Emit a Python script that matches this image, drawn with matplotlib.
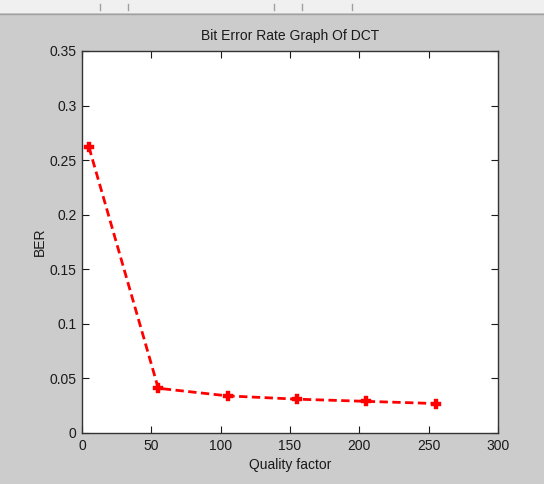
import matplotlib
matplotlib.use("Agg")
import matplotlib.pyplot as plt
from matplotlib.patches import Rectangle
from matplotlib.lines import Line2D

quality = [5, 55, 105, 155, 205, 255]
ber = [0.262, 0.041, 0.034, 0.031, 0.029, 0.027]
xticks = [0, 50, 100, 150, 200, 250, 300]
yticks = [0, 0.05, 0.1, 0.15, 0.2, 0.25, 0.3, 0.35]
ytick_labels = ["0", "0.05", "0.1", "0.15", "0.2", "0.25", "0.3", "0.35"]

plt.rcParams['font.family'] = ['Liberation Sans', 'DejaVu Sans']
fs = 10

W, H = 544, 484
fig = plt.figure(figsize=(W/100, H/100), dpi=100)
fig.patch.set_facecolor('#cccccc')

# toolbar strip at top
fig.patches.append(Rectangle((0, 1 - 13/H), 1, 13/H, transform=fig.transFigure,
                             facecolor='#f0f0f0', edgecolor='none'))
fig.lines.append(Line2D([0, 1], [1 - 14/H, 1 - 14/H], transform=fig.transFigure,
                        color='#a0a0a0', lw=1))
for xp in [100, 128, 274, 302, 352]:
    fig.lines.append(Line2D([xp/W, xp/W], [1 - 4/H, 1 - 10/H], transform=fig.transFigure,
                            color='#a0a0a0', lw=1))

left, right, top, bottom = 82, 498, 51, 433
ax = fig.add_axes([left/W, 1 - bottom/H, (right-left)/W, (bottom-top)/H])
ax.set_facecolor('white')
ax.plot(quality, ber, color='red', linestyle='--', linewidth=2, dashes=(3, 1.6),
        marker='P', markersize=7, markeredgewidth=0.3)
ax.set_xlim(0, 300)
ax.set_ylim(0, 0.35)
ax.set_xticks(xticks)
ax.set_yticks(yticks)
ax.set_yticklabels(ytick_labels)
ax.tick_params(direction='in', top=True, right=True, length=5, labelsize=fs,
               colors='#1a1a1a', pad=4)
for s in ax.spines.values():
    s.set_color('#333333')
    s.set_linewidth(1)
ax.set_title('Bit Error Rate Graph Of DCT', fontsize=fs, color='#1a1a1a', pad=8)
ax.set_xlabel('Quality factor', fontsize=fs, color='#1a1a1a', labelpad=4)
ax.set_ylabel('BER', fontsize=fs, color='#1a1a1a', labelpad=2)

fig.savefig('out.png', dpi=100, facecolor=fig.get_facecolor())
